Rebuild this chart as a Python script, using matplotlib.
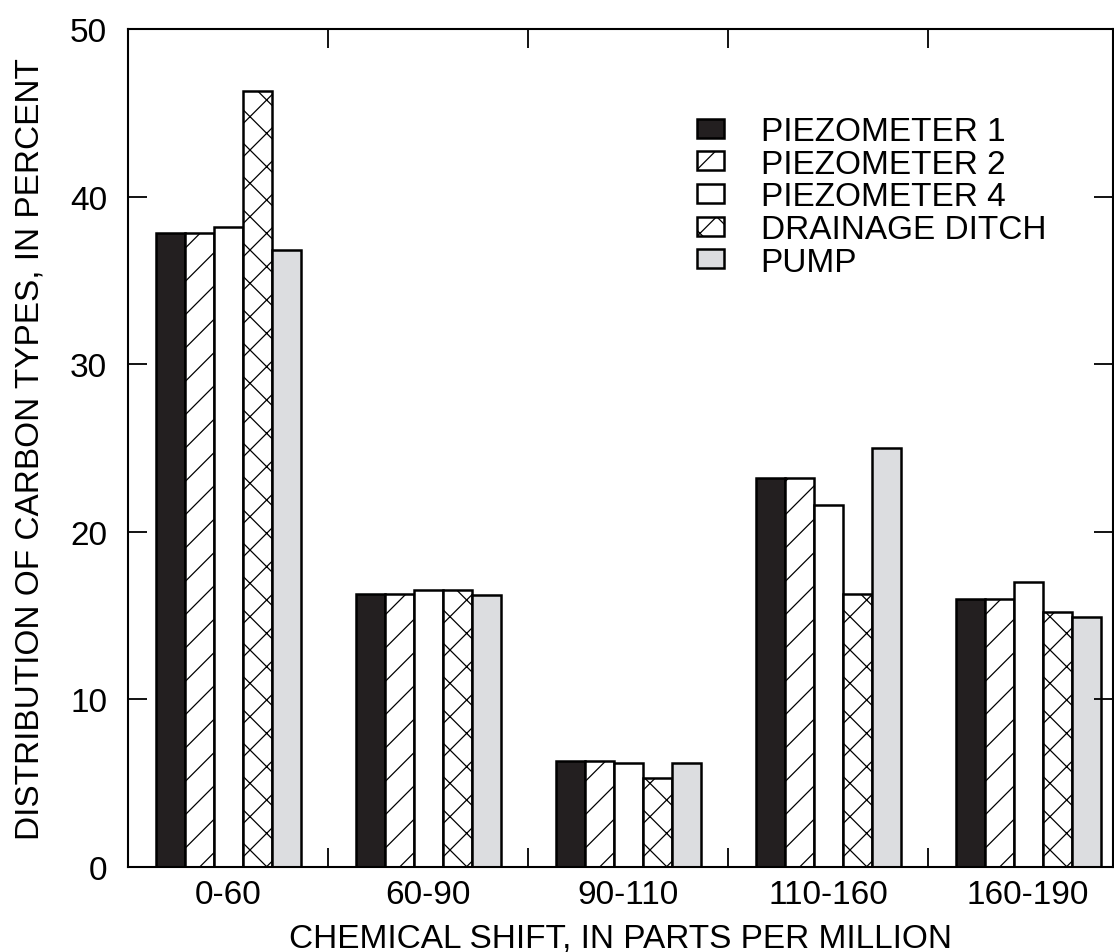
import numpy as np
import matplotlib.pyplot as plt

plt.rcParams['font.family'] = ['Liberation Sans', 'DejaVu Sans']
plt.rcParams['hatch.linewidth'] = 0.9

# Data
groups = ["0-60", "60-90", "90-110", "110-160", "160-190"]
piezo1 = [37.8, 16.3, 6.3, 23.2, 16.0]
piezo2 = [37.8, 16.3, 6.3, 23.2, 16.0]
piezo4 = [38.2, 16.5, 6.2, 21.6, 17.0]
ditch = [46.3, 16.5, 5.3, 16.3, 15.2]
pump = [36.8, 16.2, 6.2, 25.0, 14.9]

series = [
    ("PIEZOMETER 1", piezo1, '#231f20', None),
    ("PIEZOMETER 2", piezo2, 'white', '/'),
    ("PIEZOMETER 4", piezo4, 'white', None),
    ("DRAINAGE DITCH", ditch, 'white', 'x'),
    ("PUMP", pump, '#dcdde0', None),
]

fig = plt.figure(figsize=(11.14, 9.53), dpi=100)
ax = fig.add_axes([128/1114, 85/953, 985/1114, 838/953])

x = np.arange(len(groups))
w = 0.145
for i, (name, vals, fc, hatch) in enumerate(series):
    ax.bar(x + (i - 2) * w, vals, w, color=fc, edgecolor='black',
           linewidth=1.8, hatch=hatch, label=name)

ax.set_xlim(-0.5, 4.425)
ax.set_ylim(0, 50)
ax.set_yticks([0, 10, 20, 30, 40, 50])
ax.set_xticks(x)
ax.set_xticklabels(groups)
ax.set_xticks(x[:-1] + 0.5, minor=True)
ax.tick_params(axis='x', which='major', length=0, labelsize=24, pad=9)
ax.tick_params(axis='x', which='minor', direction='in', length=14,
               width=1.3, top=True, bottom=True)
ax.tick_params(axis='y', direction='in', length=14, width=1.3,
               left=True, right=True, labelsize=24, pad=15)
for s in ax.spines.values():
    s.set_linewidth(1.5)

ax.set_xlabel("CHEMICAL SHIFT, IN PARTS PER MILLION", fontsize=24, labelpad=9)
ax.set_ylabel("DISTRIBUTION OF CARBON TYPES, IN PERCENT", fontsize=24, labelpad=18)

ax.legend(loc='upper left', bbox_to_anchor=(0.578, 0.896), frameon=False,
          fontsize=24, labelspacing=0.05, handlelength=0.8, handleheight=0.5,
          handletextpad=1.1, borderpad=0, borderaxespad=0)

fig.savefig("out.png", dpi=100)
